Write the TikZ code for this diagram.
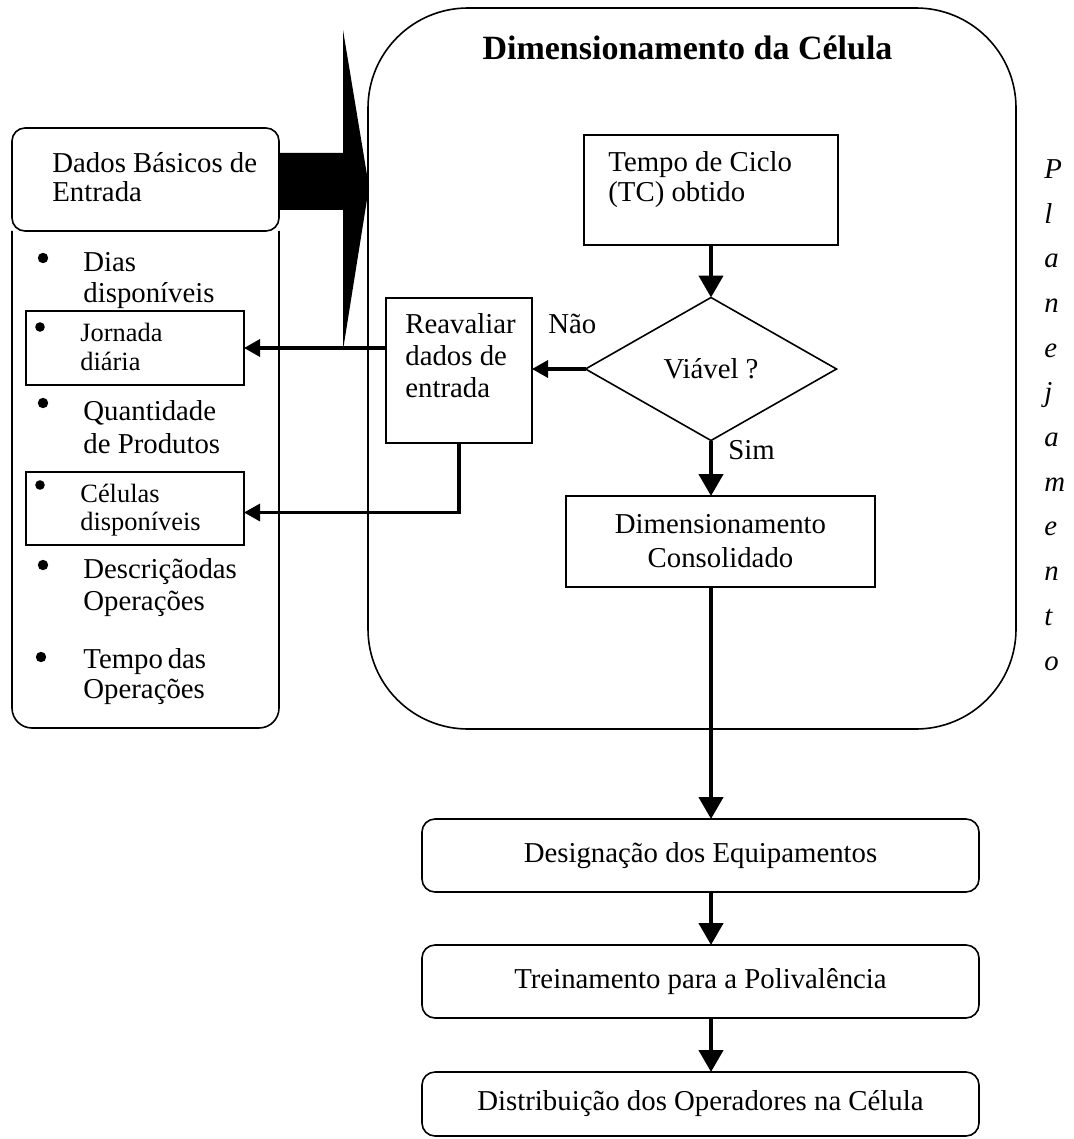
\documentclass[tikz,border=0pt]{standalone}
\usepackage{fontspec}
\setmainfont{Liberation Serif}
\usetikzlibrary{arrows.meta,shapes.geometric}

\tikzset{
  box/.style={draw, line width=0.8pt, inner sep=0pt, outer sep=0pt},
  rbox/.style={box, rounded corners=6.5pt},
  txt/.style={font=\fontsize{14.4}{15.5}\selectfont, inner sep=0pt, align=left},
  smalltxt/.style={font=\fontsize{13.2}{14.5}\selectfont, inner sep=0pt, align=left},
  ctxt/.style={font=\fontsize{14.4}{17}\selectfont, align=center},
  vflow/.style={line width=2.2pt, -{Triangle[width=12pt,length=11pt]}},
  hflow/.style={line width=1.6pt, -{Triangle[width=8.5pt,length=8pt]}},
  bulletdot/.style={fill=black},
}

\begin{document}
\begin{tikzpicture}[x=0.5pt, y=-0.5pt]
\useasboundingbox (0,0) rectangle (1074,1139);

% Multi-line text nodes are anchored at the baseline of their last line.

% ---------- left panel: basic input data ----------
\node[rbox, minimum width=133.5pt, minimum height=51.5pt] (head) at (145.5,179.5) {};
\node[txt, anchor=base west, font=\fontsize{14.4}{14.5}\selectfont] (headtext) at (52,202) {Dados Básicos de\\Entrada};
\draw[line width=0.8pt, rounded corners=10pt]
  (head.south west) -- (head.south west |- 0,728) -- (head.south east |- 0,728) -- (head.south east);

% list items
\fill[bulletdot] (43,258) circle (2.6pt);
\node[txt, anchor=base west] (dias) at (83,302) {Dias\\disponíveis};

\node[box, minimum width=109pt, minimum height=37pt] (jornada) at (135,348) {};
\fill[bulletdot] (40,327) circle (2.4pt);
\node[smalltxt, anchor=base west] (jornadatext) at (80,370) {Jornada\\diária};

\fill[bulletdot] (43,403) circle (2.6pt);
\node[txt, anchor=base west, font=\fontsize{14.4}{16.5}\selectfont] (quant) at (83,453) {Quantidade\\de Produtos};

\node[box, minimum width=109pt, minimum height=36.5pt] (celulas) at (135,508.5) {};
\fill[bulletdot] (40,485) circle (2.4pt);
\node[smalltxt, anchor=base west, font=\fontsize{13.2}{14}\selectfont] (celulastext) at (80,530) {Células\\disponíveis};

\fill[bulletdot] (43,565) circle (2.6pt);
\node[txt, anchor=base west, font=\fontsize{14.4}{16}\selectfont] (descr) at (83,610) {Descriçãodas\\Operações};

\fill[bulletdot] (41,657) circle (2.6pt);
\node[txt, anchor=base west, font=\fontsize{14.4}{15}\selectfont] (tempos) at (83,698) {Tempo\,das\\Operações};

% ---------- block arrow into the sizing stage ----------
\coordinate (tip) at (369,187);
\fill (head.east |- 0,153) -- (343,153) -- (343,30) -- (tip) -- (343,350) -- (343,210) -- (head.east |- 0,210) -- cycle;

% ---------- cell sizing stage ----------
\node[box, rounded corners=50pt, minimum width=324pt, minimum height=360.5pt] (cellbox) at (692,368.5) {};
\node[font=\bfseries\fontsize{17}{20}\selectfont, inner sep=0pt, anchor=base] (title) at (687.5,60) {Dimensionamento da Célula};

\coordinate (spine) at (711,0);

\node[box, minimum width=127pt, minimum height=55pt] (tempo) at (711,190) {};
\node[txt, anchor=base west, font=\fontsize{14.4}{15}\selectfont] (tempotext) at (608,202) {Tempo de Ciclo\\(TC) obtido};

\node[box, diamond, minimum width=125.5pt, minimum height=71.5pt, font=\fontsize{14.4}{17}\selectfont] (dia) at (711,369) {Viável ?};

\node[box, minimum width=73pt, minimum height=72.5pt] (reav) at (459,370.5) {};
\node[txt, anchor=base west, font=\fontsize{14.4}{16}\selectfont] (reavtext) at (405,397) {Reavaliar\\dados de\\entrada};

\node[box, ctxt, minimum width=154.5pt, minimum height=45.5pt] (consol) at (720.5,541.5) {Dimensionamento\\Consolidado};

\node[txt, anchor=base west] (nao) at (548,333) {Não};
\node[txt, anchor=base west] (sim) at (728,459) {Sim};

% ---------- planning label ----------
\node[txt, anchor=base west, font=\itshape\fontsize{14.4}{22.35}\selectfont] (plan) at (1044,670)
  {P\\l\\a\\n\\e\\j\\a\\m\\e\\n\\t\\o};

% ---------- following steps ----------
\node[rbox, ctxt, minimum width=278.5pt, minimum height=36.5pt] (desig) at (700.5,855.5) {Designação dos Equipamentos};
\node[rbox, ctxt, minimum width=278.5pt, minimum height=36.5pt] (trein) at (700.5,981.5) {Treinamento para a Polivalência};
\node[rbox, ctxt, minimum width=278.5pt, minimum height=32pt] (distr) at (700.5,1104) {Distribuição dos Operadores na Célula};

% ---------- connectors ----------
\draw[vflow] (tempo.south) -- (dia.north);
\draw[vflow] (dia.south) -- (spine |- consol.north);
\draw[hflow] (dia.west) -- (dia.west -| reav.east);
\draw[hflow] (reav.west |- jornada.east) -- (jornada.east);
\draw[hflow] (reav.south) |- ([yshift=-2pt]celulas.east);
\draw[vflow] (spine |- consol.south) -- (spine |- desig.north);
\draw[vflow] (spine |- desig.south) -- (spine |- trein.north);
\draw[vflow] (spine |- trein.south) -- (spine |- distr.north);

\end{tikzpicture}
\end{document}
